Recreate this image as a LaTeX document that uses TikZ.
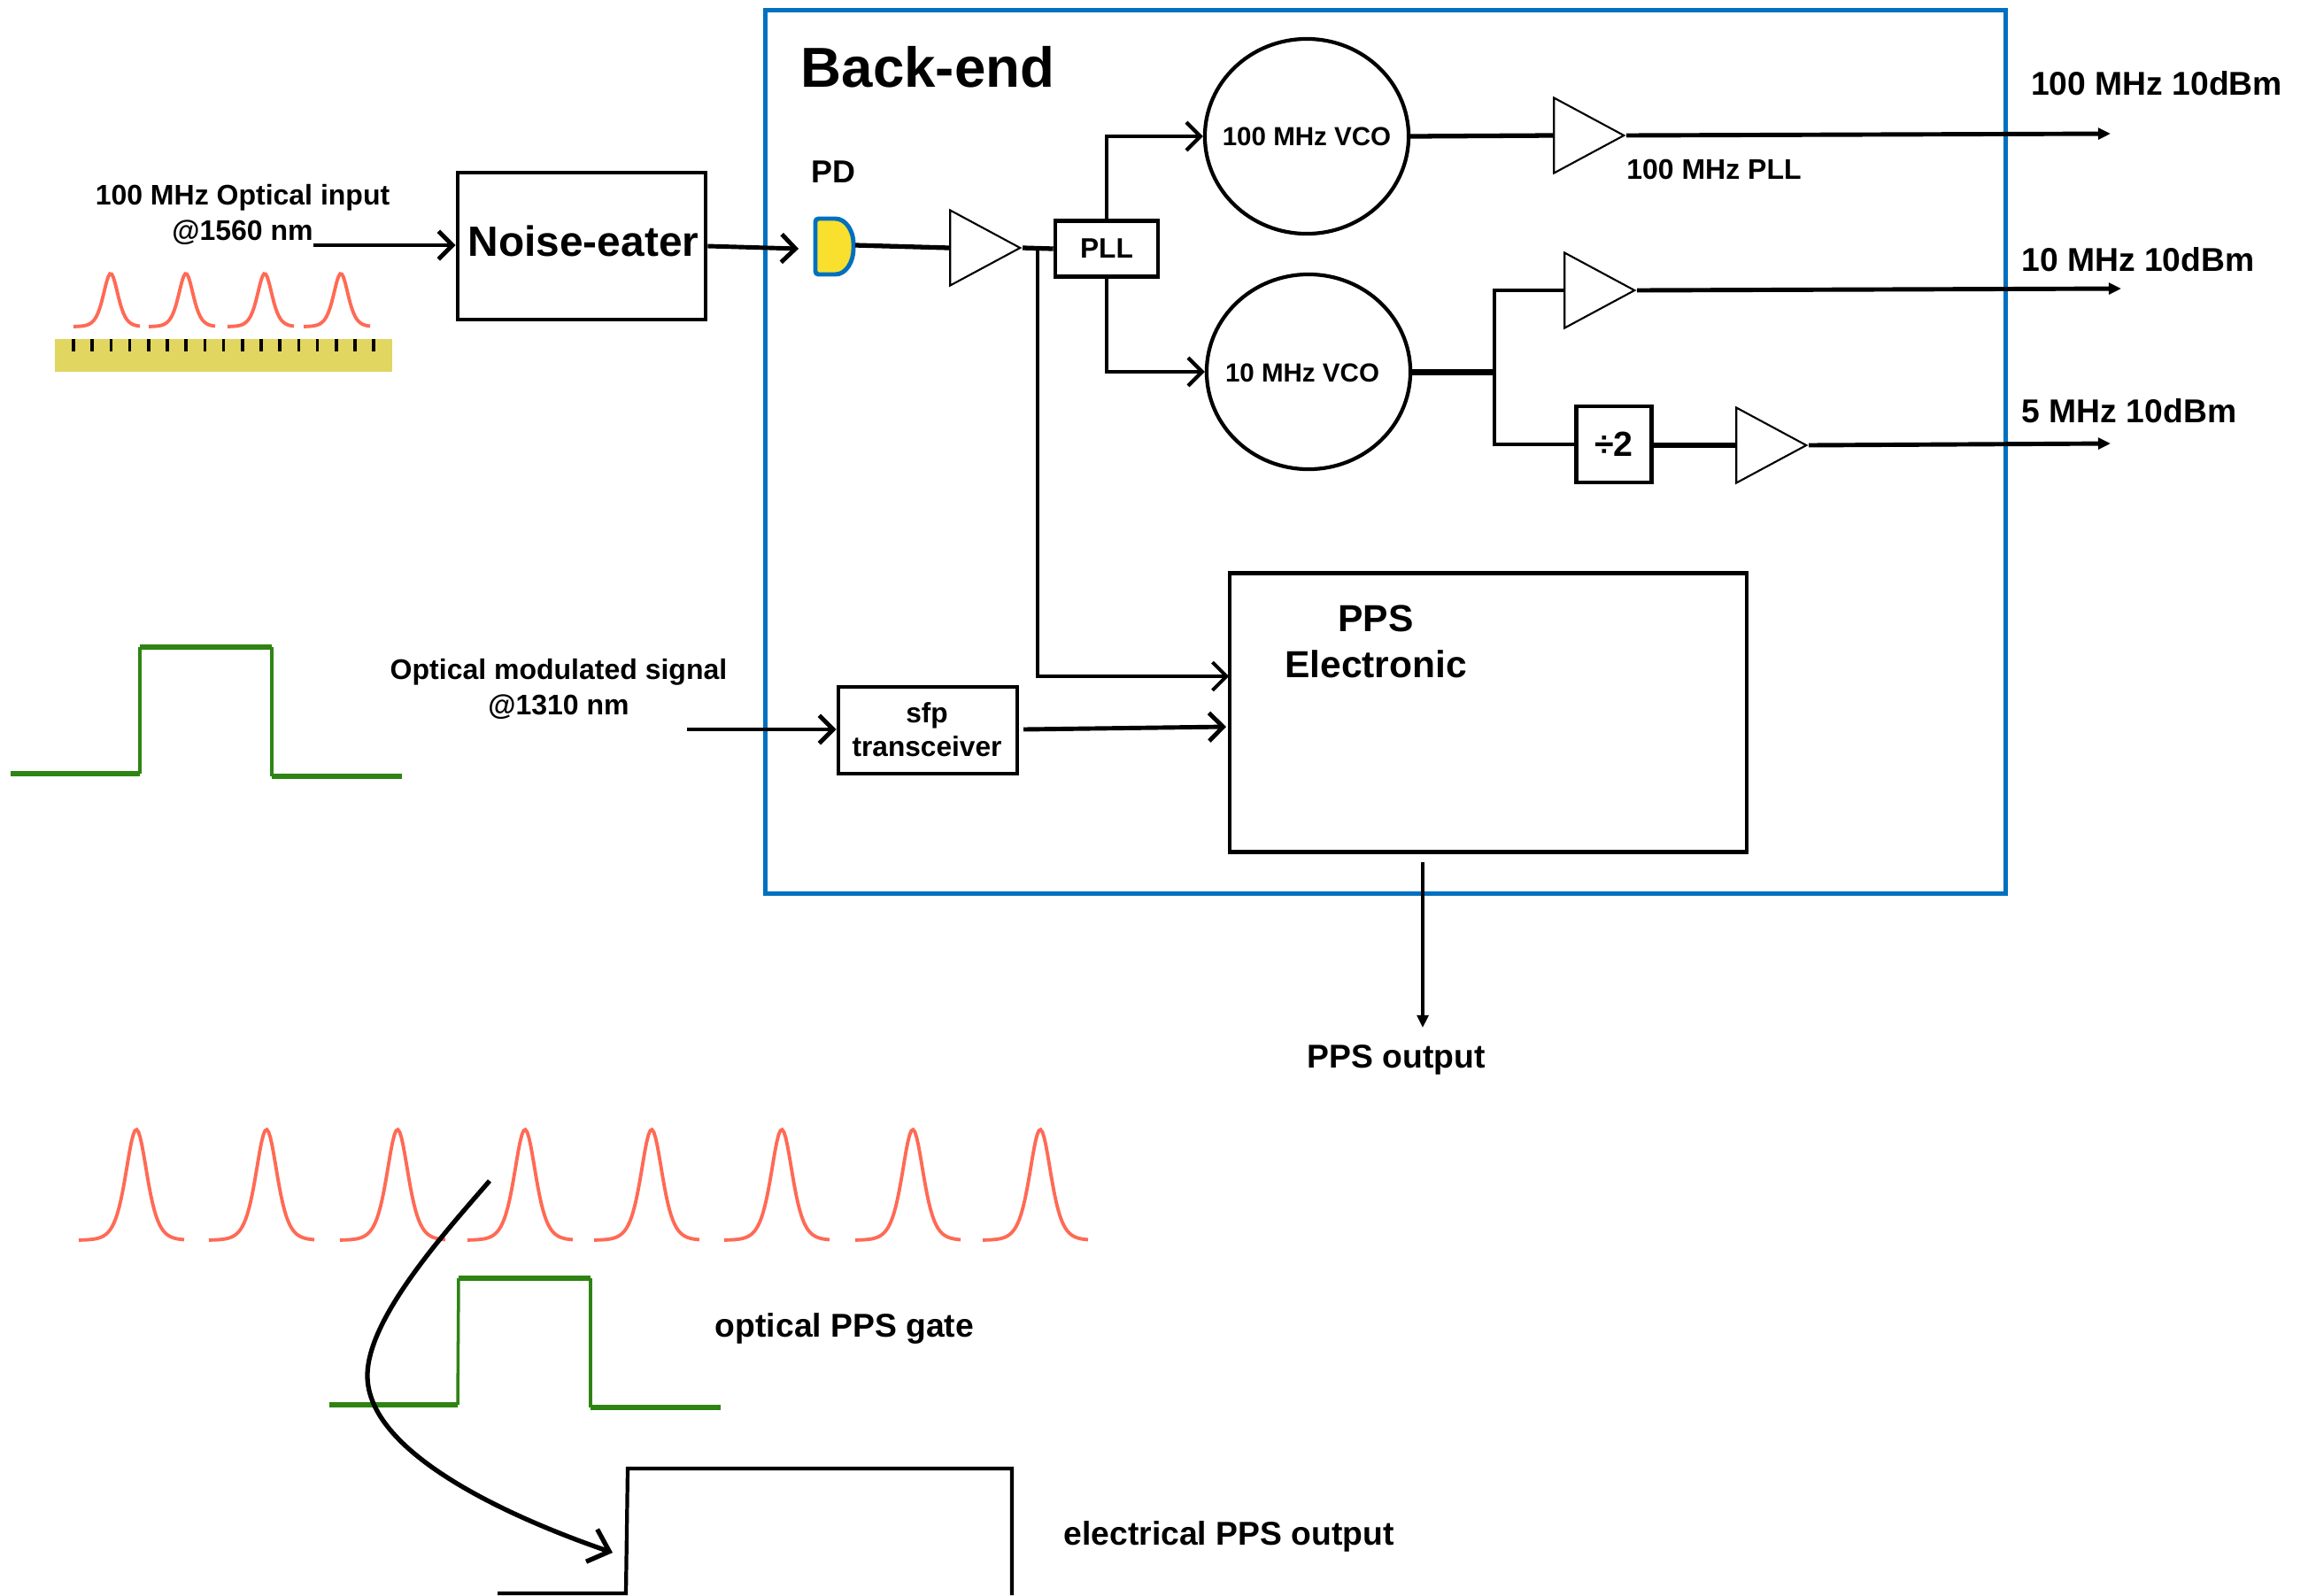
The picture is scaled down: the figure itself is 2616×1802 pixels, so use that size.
\documentclass[tikz,border=0pt]{standalone}
\usepackage{fontspec}
\setmainfont{Liberation Sans}
\usepackage{tikz}
\usetikzlibrary{arrows.meta,shapes.geometric}
\definecolor{backblue}{HTML}{0070C0}
\definecolor{pulsered}{HTML}{FF6A55}
\definecolor{gategreen}{HTML}{2E8413}
\definecolor{combyellow}{HTML}{E0D660}
\definecolor{pdyellow}{HTML}{F9E02E}
\tikzset{
  txt/.style 2 args={font=\bfseries\fontsize{#1}{#2}\selectfont,align=center,inner sep=0pt},
  box/.style={draw,line width=1.3pt,inner sep=0pt},
  amp/.style={draw,line width=0.6pt,isosceles triangle,isosceles triangle stretches,
    minimum width=0.85cm,minimum height=0.79cm,inner sep=0pt,anchor=apex},
  vco/.style={draw,line width=1.2pt,ellipse,minimum width=2.3cm,minimum height=2.2cm,inner sep=0pt},
  wire/.style={line width=1.1pt},
  heavy/.style={line width=1.5pt},
  sig/.style={->,>={Straight Barb[length=4.5pt,width=9pt]},line width=1.4pt},
  outsig/.style={->,>={Triangle[length=4pt,width=3.6pt]},line width=1.4pt},
  pulse/.style={pulsered,line width=1.1pt},
  gatelevel/.style={gategreen,line width=1.5pt},
  gateside/.style={gategreen,line width=1pt}
}
\begin{document}
\begin{tikzpicture}[x=0.01cm,y=-0.01cm]
  \useasboundingbox (0,0) rectangle (2616,1802);
  \node[draw=backblue,line width=1.4pt,minimum width=14.01cm,minimum height=9.97cm,inner sep=0pt] (backend) at (1565,510.5) {};
  \node[txt={18.1}{22pt}] (backtitle) at (1048,76) {Back-end};
  \node[txt={9.1}{11.4pt}] (optin) at (274,242) {100 MHz Optical input\\@1560 nm};
  \node[box,minimum width=2.8cm,minimum height=1.66cm] (noise) at (657,278) {};
  \node[txt={13.6}{16pt}] (noisetxt) at (659,272) {Noise-eater};
  \node[txt={10.2}{12pt}] (pdtxt) at (941,194) {PD};
  \draw [backblue,fill=pdyellow,line width=1.4pt,rounded corners=1pt] (921,247) -- (940,247) .. controls (956,247) and (964,262) .. (964,278)
    .. controls (964,295) and (956,310) .. (940,310) -- (921,310) -- cycle;
  \coordinate (pd) at (966,277);
  \node[amp] (amp0) at (1155,280) {};
  \node[box,minimum width=1.16cm,minimum height=0.63cm,txt={9}{11pt},draw] (pll) at (1250,281) {PLL};
  \node[vco] (vco1) at (1476,154) {};
  \node[txt={8.4}{10pt}] (vco1txt) at (1476,154) {100 MHz VCO};
  \node[vco] (vco2) at (1478,420) {};
  \node[txt={8.4}{10pt}] (vco2txt) at (1471,421) {10 MHz VCO};
  \node[amp] (amp1) at (1837,153) {};
  \node[amp] (amp2) at (1849,328) {};
  \node[amp] (amp3) at (2043,503) {};
  \node[box,minimum width=0.85cm,minimum height=0.86cm,txt={11.2}{13pt},draw] (div) at (1823,502) {÷2};
  \node[txt={9.1}{11pt}] (plltxt) at (1936,191) {100 MHz PLL};
  \node[txt={10.6}{13pt}] (out1txt) at (2436,94) {100 MHz 10dBm};
  \node[txt={10.6}{13pt}] (out2txt) at (2415,293) {10 MHz 10dBm};
  \node[txt={10.6}{13pt}] (out3txt) at (2405,464) {5 MHz 10dBm};
  \node[box,minimum width=5.84cm,minimum height=3.15cm] (ppsbox) at (1681,805) {};
  \node[txt={12.1}{14.7pt}] (ppstxt) at (1554,725) {PPS\\Electronic};
  \node[box,minimum width=2.02cm,minimum height=0.98cm] (sfp) at (1048,825) {};
  \node[txt={9}{10.8pt}] (sfptxt) at (1047,824) {sfp\\transceiver};
  \node[txt={9.1}{11.4pt}] (modtxt) at (631,778) {Optical modulated signal\\@1310 nm};
  \node[txt={10.6}{13pt}] (ppsouttxt) at (1577,1197) {PPS output};
  \node[txt={10.6}{13pt}] (gatetxt) at (954,1501) {optical PPS gate};
  \node[txt={10.6}{13pt}] (elecTxt) at (1388,1736) {electrical PPS output};
  \coordinate (optstart) at (354,277);
  \coordinate (pdin) at (902,281);
  \coordinate (modstart) at (776,824);
  \coordinate (tap) at (1172,279);
  \coordinate (split) at (1688,420);
  \coordinate (ppsin1) at (1388,764);
  \coordinate (ppsin2) at (1385,821);
  \coordinate (sfpout) at (1156,824);
  \coordinate (out1) at (2384,151);
  \coordinate (out2) at (2396,326);
  \coordinate (out3) at (2384,501);
  \coordinate (ppsoutstart) at (1607,974);
  \coordinate (ppsoutend) at (1607,1161);
  \coordinate (curvestart) at (553,1334);
  \coordinate (curveend) at (692,1754);
  \draw [sig] (optstart) -- (noise.west |- optstart);
  \draw [sig] (noise.east) -- (pdin);
  \draw [heavy] (pd) -- (amp0.west);
  \draw [heavy] (amp0.apex) -- (pll.west);
  \draw [sig,line width=1.1pt] (tap) |- (ppsin1);
  \draw [sig,line width=1.2pt] (pll.north) |- (vco1.west);
  \draw [sig,line width=1.2pt] (pll.south) |- (vco2.west);
  \draw [heavy] (vco1.east) -- (amp1.west);
  \draw [outsig] (amp1.apex) -- (out1);
  \draw [line width=2pt] (vco2.east) -- (split);
  \draw [wire] (split) |- (amp2.west);
  \draw [wire] (split) |- (div.west);
  \draw [outsig] (amp2.apex) -- (out2);
  \draw [heavy] (div.east |- amp3.west) -- (amp3.west);
  \draw [outsig] (amp3.apex) -- (out3);
  \draw [sig] (modstart) -- (sfp.west |- modstart);
  \draw [sig] (sfpout) -- (ppsin2);
  \draw [outsig] (ppsoutstart) -- (ppsoutend);
  \fill [combyellow] (62,383) rectangle (443,420);
  \foreach \i in {0,...,16}
    \draw [line width=1pt] ({83+21.2*\i},383) -- ({83+21.2*\i},397);
  \foreach \px in {125,210,299,385}
    \draw [pulse] plot[domain=-42:33,samples=41] ({\px+\x},{369-60/(cosh((\x)/11)^2)});
  \foreach \px in {154,301,449,593,736,883,1031,1175}
    \draw [pulse] plot[domain=-65:54,samples=61] ({\px+\x},{1401-125/(cosh((\x)/16)^2)});
  \draw [gatelevel] (12,874) -- (158,874);
  \draw [gateside] (158,874) -- (158,731);
  \draw [gatelevel] (158,731) -- (307,731);
  \draw [gateside] (307,731) -- (307,877);
  \draw [gatelevel] (307,877) -- (454,877);
  \draw [gatelevel] (372,1587) -- (517,1587);
  \draw [gateside] (517,1587) -- (518,1444);
  \draw [gatelevel] (518,1444) -- (667,1444);
  \draw [gateside] (667,1444) -- (667,1590);
  \draw [gatelevel] (667,1590) -- (814,1590);
  \draw [line width=1.2pt] (562,1800) -- (707,1800) -- (709,1659) -- (1143,1659) -- (1143,1802);
  \draw [sig,line width=1.5pt,>={Straight Barb[length=6pt,width=11pt]}] (curvestart) .. controls (500,1395) and (415,1490) .. (415,1554)
    .. controls (415,1640) and (570,1712) .. (curveend);
\end{tikzpicture}
\end{document}
